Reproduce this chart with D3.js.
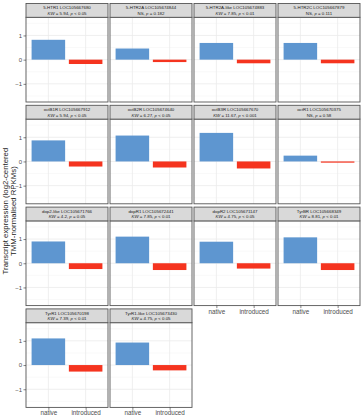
<!DOCTYPE html>
<html>
<head>
<meta charset="utf-8">
<script src="https://cdn.jsdelivr.net/npm/d3@7"></script>
<style>
  body { margin: 0; background: #fff; }
  svg { font-family: "Liberation Sans", Arial, sans-serif; }
</style>
</head>
<body>
<svg id="chart" width="361" height="418"></svg>
<script>
// panel titles (gene) and test results
const genes = [
  "5-HTR1 LOC105667680", "5-HTR2A LOC105674844", "5-HTR2A-like LOC105674883", "5-HTR2C LOC105667879",
  "octB1R LOC105667912", "octB2R LOC105674640", "octB3R LOC105667670", "octR1 LOC105670375",
  "dop2-like LOC105671766", "dopR1 LOC105672441", "dopR2 LOC105671147", "TyrBR LOC105668349",
  "TyrR1 LOC105670198", "TyrR1-like LOC105673430"
];
// [prefix, stat, p text]
const stats = [
  ["KW", " = 5.94, ", "p < 0.05"], ["NS", ", ", "p = 0.182"], ["KW", " = 7.85, ", "p < 0.01"], ["NS", ", ", "p = 0.111"],
  ["KW", " = 5.94, ", "p < 0.05"], ["KW", " = 6.27, ", "p < 0.05"], ["KW", " = 11.67, ", "p < 0.001"], ["NS", ", ", "p = 0.58"],
  ["KW", " = 4.2, ", "p = 0.05"], ["KW", " = 7.85, ", "p < 0.01"], ["KW", " = 4.75, ", "p < 0.05"], ["KW", " = 8.81, ", "p < 0.01"],
  ["KW", " = 7.39, ", "p < 0.01"], ["KW", " = 4.75, ", "p < 0.05"]
];
const nativeVals = [0.82, 0.46, 0.69, 0.69, 0.87, 1.07, 1.18, 0.24, 0.9, 1.1, 0.89, 1.07, 1.1, 0.93];
const introducedVals = [-0.18, -0.1, -0.15, -0.15, -0.21, -0.25, -0.29, -0.05, -0.24, -0.28, -0.22, -0.28, -0.27, -0.22];
const categories = ["native", "introduced"];
const yTicks = [-1, 0, 1];
const yMinor = [-1.5, -0.5, 0.5, 1.5];
const colors = { native: "#5e96d0", introduced: "#f5341f" };

const svg = d3.select("#chart");
const ncol = 4;
const panelLeft = 26, panelW = 82, colStep = 84;
const rowTop = 3.5, rowStep = 101.8, stripH = 13.8, panelH = 84.7;

const x = d3.scalePoint().domain(categories).range([0, panelW]).padding(0.6);
const barW = x.step() * 0.9;
const y = d3.scaleLinear().domain([-1.75, 1.75]).range([panelH, 0]);

const nRows = Math.ceil(genes.length / ncol);

genes.forEach((g, i) => {
  const col = i % ncol, row = Math.floor(i / ncol);
  const px = panelLeft + col * colStep;
  const sy = rowTop + row * rowStep;
  const py = sy + stripH;
  const gp = svg.append("g").attr("transform", `translate(${px},${py})`);

  // background grid
  gp.append("rect").attr("width", panelW).attr("height", panelH).attr("fill", "#fff");
  gp.selectAll(".minor").data(yMinor).enter().append("line")
    .attr("x1", 0).attr("x2", panelW)
    .attr("y1", d => y(d)).attr("y2", d => y(d))
    .attr("stroke", "#f2f2f2").attr("stroke-width", 0.5);
  gp.selectAll(".major").data(yTicks).enter().append("line")
    .attr("x1", 0).attr("x2", panelW)
    .attr("y1", d => y(d)).attr("y2", d => y(d))
    .attr("stroke", "#ebebeb").attr("stroke-width", 0.8);
  gp.selectAll(".vgrid").data(categories).enter().append("line")
    .attr("x1", d => x(d)).attr("x2", d => x(d))
    .attr("y1", 0).attr("y2", panelH)
    .attr("stroke", "#ebebeb").attr("stroke-width", 0.8);

  // bars
  const vals = [{ c: "native", v: nativeVals[i] }, { c: "introduced", v: introducedVals[i] }];
  gp.selectAll(".bar").data(vals).enter().append("rect")
    .attr("x", d => x(d.c) - barW / 2)
    .attr("width", barW)
    .attr("y", d => y(Math.max(0, d.v)))
    .attr("height", d => Math.abs(y(d.v) - y(0)))
    .attr("fill", d => colors[d.c]);

  gp.append("rect").attr("width", panelW).attr("height", panelH)
    .attr("fill", "none").attr("stroke", "#555").attr("stroke-width", 0.9);

  // strip
  const gs = svg.append("g").attr("transform", `translate(${px},${sy})`);
  gs.append("rect").attr("width", panelW).attr("height", stripH)
    .attr("fill", "#d9d9d9").attr("stroke", "#555").attr("stroke-width", 0.9);
  gs.append("text").attr("x", panelW / 2).attr("y", 5.8)
    .attr("text-anchor", "middle").attr("font-size", 4.4).attr("fill", "#1a1a1a")
    .text(g);
  const t2 = gs.append("text").attr("x", panelW / 2).attr("y", 11.3)
    .attr("text-anchor", "middle").attr("font-size", 4.4).attr("fill", "#1a1a1a");
  const s = stats[i];
  t2.append("tspan").attr("font-style", s[0] === "KW" ? "italic" : "normal").text(s[0]);
  t2.append("tspan").text(s[1]);
  t2.append("tspan").attr("font-style", "italic").text("p");
  t2.append("tspan").text(s[2].slice(1));

  // y axis on first column
  if (col === 0) {
    const ay = svg.append("g").attr("transform", `translate(${px},${py})`)
      .call(d3.axisLeft(y).tickValues(yTicks).tickSize(2.5).tickFormat(d3.format("d")));
    ay.select(".domain").remove();
    ay.selectAll(".tick line").attr("stroke", "#333").attr("stroke-width", 0.6);
    ay.selectAll(".tick text").attr("font-size", 6).attr("fill", "#4d4d4d")
      .attr("x", -4).attr("font-family", "Liberation Sans, Arial, sans-serif");
  }

  // x axis on bottom panel of each column
  const below = i + ncol;
  if (below >= genes.length) {
    const ax = svg.append("g").attr("transform", `translate(${px},${py + panelH})`)
      .call(d3.axisBottom(x).tickSize(2.5));
    ax.select(".domain").remove();
    ax.selectAll(".tick line").attr("stroke", "#333").attr("stroke-width", 0.6);
    ax.selectAll(".tick text").attr("font-size", 6.3).attr("fill", "#4d4d4d")
      .attr("y", 3.5).attr("font-family", "Liberation Sans, Arial, sans-serif");
  }
});

// y axis title
const midY = rowTop + (nRows * rowStep) / 2 + 4;
const yt = svg.append("text")
  .attr("transform", `translate(8,${midY}) rotate(-90)`)
  .attr("text-anchor", "middle").attr("font-size", 7.8).attr("fill", "#1a1a1a");
yt.append("tspan").attr("x", 0).attr("dy", 0).text("Transcript expression (log2-centered");
yt.append("tspan").attr("x", 0).attr("dy", 8.2).text("TMM-normalised RPKMs)");
</script>
</body>
</html>
